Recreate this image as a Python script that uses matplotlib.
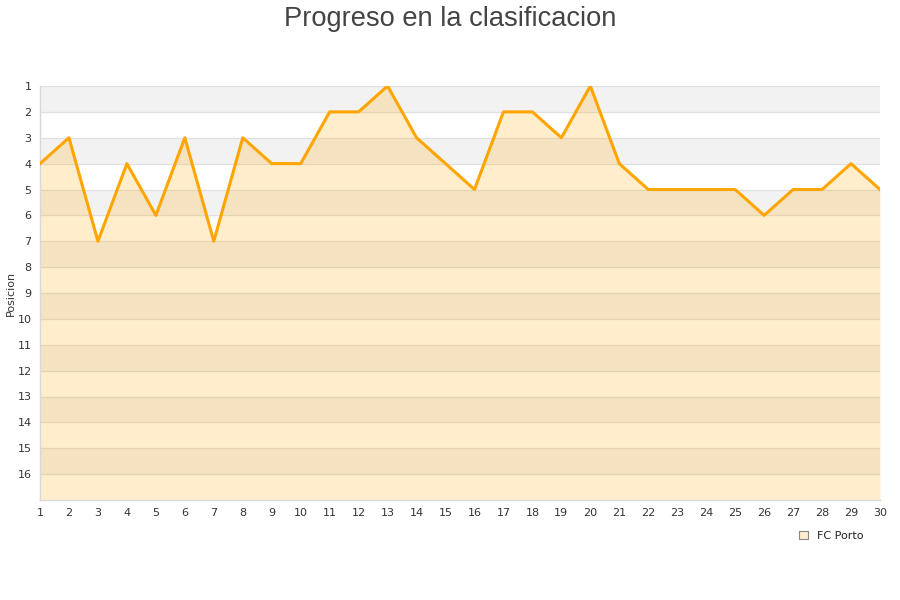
import matplotlib
matplotlib.use("Agg")
import matplotlib.pyplot as plt
from matplotlib.patches import Patch

jornadas = list(range(1, 31))
posiciones = [4, 3, 7, 4, 6, 3, 7, 3, 4, 4, 2, 2, 1, 3, 4, 5, 2, 2, 3, 1,
              4, 5, 5, 5, 5, 6, 5, 5, 4, 5]
y_ticks = list(range(1, 17))
team = "FC Porto"
title = "Progreso en la clasificacion"
ylabel = "Posicion"

fig = plt.figure(figsize=(9, 6), dpi=100)
ax = fig.add_axes([40/900, 1-500/600, 840/900, 414/600])

# alternating background bands
for k in range(1, 17):
    ax.axhspan(k, k+1, color="#f2f2f2" if k % 2 == 1 else "#ffffff", zorder=0, lw=0)
for k in range(1, 17):
    ax.axhline(k, color="#e0e0e0", lw=0.9, zorder=1)

ax.fill_between(jornadas, posiciones, 17, color="#ffa500", alpha=0.2, lw=0, zorder=2)
ax.plot(jornadas, posiciones, color="#ffa500", lw=2.2, zorder=3)

ax.set_xlim(1, 30)
ax.set_ylim(17, 1)
ax.set_xticks(jornadas)
ax.set_yticks(y_ticks)
ax.tick_params(axis="both", length=0, labelsize=8, colors="#333333", pad=6)
for s in ["top", "right"]:
    ax.spines[s].set_visible(False)
for s in ["left", "bottom"]:
    ax.spines[s].set_color("#d8d8d8")
    ax.spines[s].set_linewidth(1)

ax.set_ylabel(ylabel, fontsize=8, color="#333333", labelpad=1)
fig.text(0.5, 0.99, title, ha="center", va="top", fontsize=19.6,
         family="Liberation Sans", color="#444444")

leg = fig.legend(handles=[Patch(facecolor="#ffeccb", edgecolor="#888888", lw=0.8, label=team)],
                 loc="center", bbox_to_anchor=(831/900, 1-536/600), frameon=False,
                 fontsize=8, handlelength=0.8, handleheight=0.8, handletextpad=0.8)
for t in leg.get_texts():
    t.set_color("#222222")

fig.savefig("out.png", dpi=100)
